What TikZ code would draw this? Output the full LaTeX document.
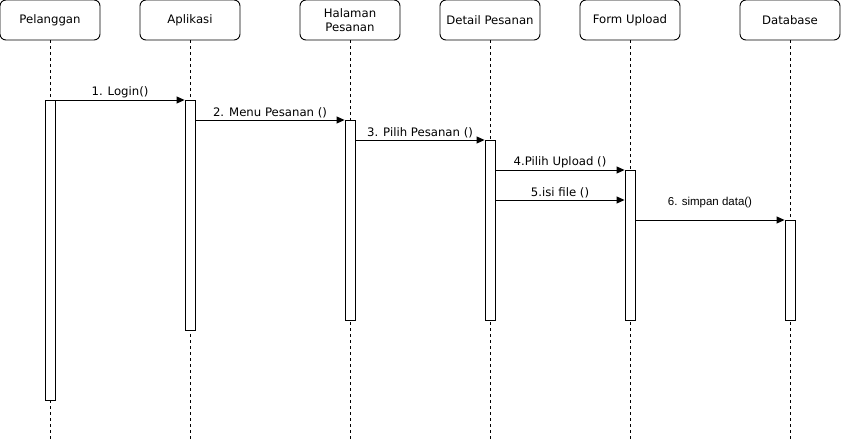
\documentclass[tikz,border=0pt]{standalone}
\usepackage{fontspec}
\setmainfont{DejaVu Sans}
\newfontfamily\arialfont{Liberation Sans}
\usetikzlibrary{arrows.meta}

\tikzset{
	head/.style={draw, rounded corners=6pt, minimum width=100pt, minimum height=40pt, align=center, font=\fontsize{11.7}{13.8}\selectfont, line width=0.9pt},
	bar/.style={draw, fill=white, minimum width=10pt, anchor=north, inner sep=0pt, line width=0.9pt},
	life/.style={dash pattern=on 3pt off 3pt, line width=0.7pt},
	msg/.style={-{Triangle[length=8pt,width=7pt]}, line width=0.9pt},
	lbl/.style={font=\fontsize{11.7}{13}\selectfont, inner sep=2pt}
}

\begin{document}
\begin{tikzpicture}[x=1pt, y=-1pt]
	\useasboundingbox (0,0) rectangle (841,441);
	\node [head] (pel) at (50,20) {Pelanggan};
	\node [head] (apl) at (190,20) {Aplikasi};
	\node [head] (hal) at (350,20) {Halaman \\ Pesanan};
	\node [head] (det) at (490,20) {Detail Pesanan};
	\node [head] (frm) at (630,20) {Form Upload};
	\node [head] (db) at (790,20) {Database};

	\coordinate (bot) at (0,440);
	\foreach \n in {pel, apl, hal, det, frm, db}
		\draw [life] (\n.south) -- (\n.south |- bot);

	\node [bar, minimum height=300pt] (bpel) at (50,100) {};
	\node [bar, minimum height=230pt] (bapl) at (190,100) {};
	\node [bar, minimum height=200pt] (bhal) at (350,120) {};
	\node [bar, minimum height=180pt] (bdet) at (490,140) {};
	\node [bar, minimum height=150pt] (bfrm) at (630,170) {};
	\node [bar, minimum height=100pt] (bdb) at (790,220) {};

	\coordinate (m5) at (0,200);
	\draw [msg] (bpel.north east) -- node [lbl, above] {1. Login()} (bapl.north west);
	\draw [msg] (bapl.east |- bhal.north) -- node [lbl, above] {2. Menu Pesanan ()} (bhal.north west);
	\draw [msg] (bhal.east |- bdet.north) -- node [lbl, above] {3. Pilih Pesanan ()} (bdet.north west);
	\draw [msg] (bdet.east |- bfrm.north) -- node [lbl, above] {4.Pilih Upload ()} (bfrm.north west);
	\draw [msg] (bdet.east |- m5) -- node [lbl, above] {5.isi file ()} (bfrm.west |- m5);
	\draw [msg] (bfrm.east |- bdb.north) -- node [lbl, above=10pt, font=\arialfont\fontsize{11.5}{13}\selectfont] {6. simpan data()} (bdb.north west);
\end{tikzpicture}
\end{document}
